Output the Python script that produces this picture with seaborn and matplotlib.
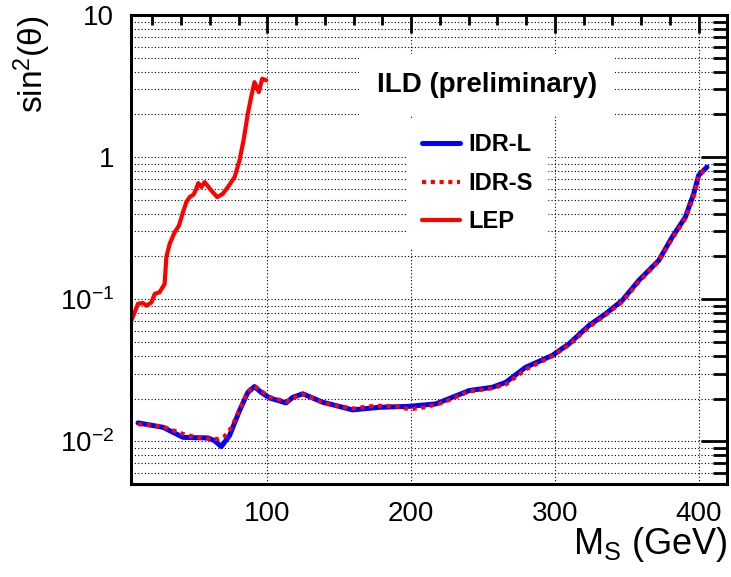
import numpy as np
import pandas as pd
import matplotlib
matplotlib.use("Agg")
import matplotlib.pyplot as plt
import seaborn as sns
from matplotlib.ticker import FixedLocator, LogLocator, NullFormatter

# LEP limit (red solid)
lep_mass = [5, 10, 13.5, 15.8, 19.3, 21.6, 25, 28.5, 29.7, 32, 35.5, 38.5, 41.3, 43.6,
            45.9, 48.7, 50.5, 51.9, 54, 56.3, 61, 65.1, 69, 72.5, 77.2, 80.6, 83.4,
            86.4, 88.7, 91, 94, 96.4, 99.2]
lep_sin2 = [0.069, 0.093, 0.094, 0.090, 0.095, 0.109, 0.112, 0.128, 0.198, 0.245, 0.296,
            0.330, 0.410, 0.482, 0.523, 0.546, 0.599, 0.656, 0.615, 0.667, 0.582, 0.523,
            0.552, 0.615, 0.723, 0.948, 1.31, 2.02, 2.65, 3.37, 2.87, 3.56, 3.47]

# IDR-L (blue solid)
idrl_mass = [10, 27.4, 41.3, 50, 58.6, 63.3, 67.9, 73.7, 80.6, 86.4, 91, 95.7, 101.5,
             113, 117.6, 124.6, 130.4, 138.5, 147.8, 159.3, 177.8, 198.7, 217.2, 228.7,
             240.3, 256.5, 265.8, 279.7, 298.2, 309.8, 323.7, 335.3, 346.8, 358.4,
             372.3, 381.6, 390.8, 396.6, 400, 405.8]
idrl_sin2 = [0.01348, 0.01255, 0.01067, 0.0106, 0.01057, 0.0101, 0.00918, 0.0110, 0.01644,
             0.0221, 0.02428, 0.0221, 0.0202, 0.01864, 0.0204, 0.0216, 0.0204, 0.01883,
             0.01783, 0.01664, 0.01735, 0.01763, 0.01834, 0.0204, 0.02275, 0.0240, 0.0260,
             0.0332, 0.0402, 0.0485, 0.0653, 0.0789, 0.0979, 0.1355, 0.1875, 0.2735,
             0.378, 0.552, 0.743, 0.851]

# IDR-S (red dotted)
idrs_mass = [10, 27, 41, 50, 60, 66, 70, 75, 81, 86.4, 91, 96, 101.5, 113, 118, 124.6,
             131, 139, 148, 160, 170, 180, 190, 199, 210, 222, 240, 256, 266, 280, 298,
             310, 324, 335, 347, 358, 372, 382, 391, 397, 400, 406]
idrs_sin2 = [0.0132, 0.0127, 0.0113, 0.0107, 0.0104, 0.0104, 0.0108, 0.0125, 0.0170,
             0.0225, 0.0245, 0.0225, 0.0205, 0.0190, 0.0202, 0.0214, 0.0202, 0.0186,
             0.0178, 0.0170, 0.0176, 0.0178, 0.0176, 0.0168, 0.0174, 0.0187, 0.0224,
             0.0236, 0.0252, 0.0322, 0.0396, 0.0478, 0.0640, 0.0770, 0.0960, 0.1310,
             0.1840, 0.2700, 0.372, 0.545, 0.735, 0.85]

y_ticks = [0.01, 0.1, 1, 10]
y_ticklabels = [r"$10^{-2}$", r"$10^{-1}$", "1", "10"]
x_ticks = [100, 200, 300, 400]

sns.set_theme(style="white")
plt.rcParams["font.family"] = ["Liberation Sans", "DejaVu Sans"]
plt.rcParams["mathtext.fontset"] = "custom"
plt.rcParams["mathtext.rm"] = "Liberation Sans"
plt.rcParams["mathtext.it"] = "Liberation Sans"
plt.rcParams["mathtext.default"] = "rm"
for key in ["text.color", "axes.labelcolor", "xtick.color", "ytick.color"]:
    plt.rcParams[key] = "black"

fig = plt.figure(figsize=(7.31, 5.77), dpi=100)
ax = fig.add_axes([0.179, 0.161, 0.816, 0.813])

lep = pd.DataFrame({"m": lep_mass, "s": lep_sin2})
idrl = pd.DataFrame({"m": idrl_mass, "s": idrl_sin2})
idrs = pd.DataFrame({"m": idrs_mass, "s": idrs_sin2})

sns.lineplot(data=lep, x="m", y="s", ax=ax, color="#ff0000", lw=3, sort=False,
             estimator=None, label="LEP")
sns.lineplot(data=idrl, x="m", y="s", ax=ax, color="#0000ff", lw=3.6, sort=False,
             estimator=None, label="IDR-L")
sns.lineplot(data=idrs, x="m", y="s", ax=ax, color="#ff0000", lw=3, sort=False,
             estimator=None, label="IDR-S", linestyle=(0, (1, 1.1)))

ax.set_yscale("log")
ax.set_xlim(5, 420)
ax.set_ylim(0.005, 10)

ax.yaxis.set_major_locator(FixedLocator(y_ticks))
ax.set_yticklabels(y_ticklabels)
ax.yaxis.set_minor_locator(LogLocator(base=10, subs=np.arange(2, 10), numticks=20))
ax.yaxis.set_minor_formatter(NullFormatter())
ax.set_xticks(x_ticks)
ax.set_xticks(np.arange(20, 420, 20), minor=True)

ax.grid(True, which="major", axis="x", color="black", ls=(0, (1, 2)), lw=0.8)
ax.grid(True, which="both", axis="y", color="black", ls=(0, (1, 2)), lw=0.8)

for sp in ax.spines.values():
    sp.set_linewidth(2.2)
    sp.set_color("black")

ax.tick_params(axis="both", which="both", direction="in", top=True, right=True,
               colors="black", width=2, labelsize=20)
ax.tick_params(axis="y", which="major", length=19, pad=12)
ax.tick_params(axis="y", which="minor", length=10)
ax.tick_params(axis="x", which="major", length=13, pad=12)
ax.tick_params(axis="x", which="minor", length=7)

ax.set_xlabel(r"M$_{\mathrm{S}}$ (GeV)", fontsize=26, loc="right")
ax.set_ylabel(r"sin$^{2}$(θ)", fontsize=24, loc="top")
ax.xaxis.set_label_coords(1.0, -0.087)
ax.yaxis.set_label_coords(-0.13, 1.0)

ax.text(0.597, 0.851, "ILD (preliminary)", transform=ax.transAxes, fontsize=20,
        fontweight="bold", ha="center", va="center",
        bbox=dict(facecolor="white", edgecolor="none", pad=13))

handles, labels = ax.get_legend_handles_labels()
order = [labels.index("IDR-L"), labels.index("IDR-S"), labels.index("LEP")]
leg = ax.legend([handles[i] for i in order], [labels[i] for i in order],
                loc="upper left", bbox_to_anchor=(0.465, 0.778), frameon=True,
                framealpha=1, facecolor="white", edgecolor="white", fancybox=False,
                prop={"weight": "bold", "size": 17}, handlelength=1.6,
                handletextpad=0.35, labelspacing=0.66, borderpad=0.6,
                borderaxespad=0)

fig.savefig("out.png", dpi=100)
